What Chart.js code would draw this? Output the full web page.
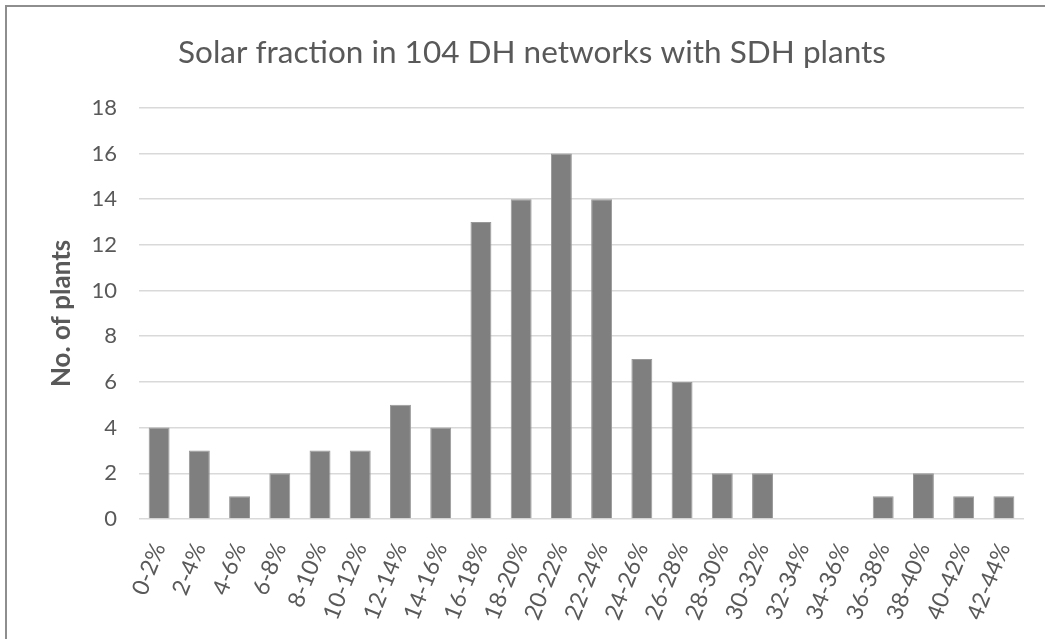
<!DOCTYPE html>
<html>
<head>
<meta charset="utf-8">
<script src="https://cdn.jsdelivr.net/npm/chart.js@4"></script>
<style>
  body { margin: 0; background: #fff; overflow: hidden; }
  #frame { position: absolute; left: 5px; top: 5px; width: 1200px; height: 800px;
           border-top: 2px solid #8e8e8e; border-left: 2px solid #8e8e8e; }
  #wrap { position: absolute; left: 0; top: 0; width: 1045px; height: 639px; }
</style>
</head>
<body>
<div id="frame"></div>
<div id="wrap"><canvas id="chart" width="1045" height="639"></canvas></div>
<script>
// Bin labels (solar fraction ranges)
const categories = ['0-2%', '2-4%', '4-6%', '6-8%', '8-10%', '10-12%', '12-14%', '14-16%',
  '16-18%', '18-20%', '20-22%', '22-24%', '24-26%', '26-28%', '28-30%', '30-32%',
  '32-34%', '34-36%', '36-38%', '38-40%', '40-42%', '42-44%'];

// Number of plants in each bin
const plantCounts = [4, 3, 1, 2, 3, 3, 5, 4, 13, 14, 16, 14, 7, 6, 2, 2, 0, 0, 1, 2, 1, 1];

const textColor = '#595959';
const fontFamily = 'Lato, "Open Sans", sans-serif';

const ctx = document.getElementById('chart').getContext('2d');

new Chart(ctx, {
  type: 'bar',
  data: {
    labels: categories,
    datasets: [{
      label: 'No. of plants',
      data: plantCounts,
      backgroundColor: '#7f7f7f',
      borderColor: '#999999',
      borderWidth: 1,
      categoryPercentage: 1,
      barPercentage: 0.52
    }]
  },
  options: {
    responsive: false,
    animation: false,
    // left padding shifts the title centre to match the original
    layout: { padding: { left: 40, right: 21, top: 0, bottom: 0 } },
    plugins: {
      legend: { display: false },
      tooltip: { enabled: false },
      title: {
        display: true,
        text: 'Solar fraction in 104 DH networks with SDH plants',
        color: textColor,
        font: { family: fontFamily, size: 31.5, weight: 'normal' },
        padding: { top: 34, bottom: 36 }
      }
    },
    scales: {
      x: {
        grid: { display: false },
        border: { display: false },
        ticks: {
          color: textColor,
          font: { family: fontFamily, size: 23 },
          minRotation: 68,
          maxRotation: 68,
          padding: 12,
          autoSkip: false
        },
        afterFit: (scale) => { scale.height = 120; }
      },
      y: {
        min: 0,
        max: 18,
        ticks: {
          stepSize: 2,
          color: textColor,
          font: { family: fontFamily, size: 22 },
          padding: 22
        },
        grid: { color: '#d9d9d9', lineWidth: 1.5, drawTicks: false },
        border: { display: false },
        title: {
          display: true,
          text: 'No. of plants',
          color: textColor,
          font: { family: fontFamily, size: 26, weight: 'bold' },
          padding: { top: 6, bottom: 0 }
        },
        afterFit: (scale) => { scale.width = 99; }
      }
    }
  }
});
</script>
</body>
</html>
